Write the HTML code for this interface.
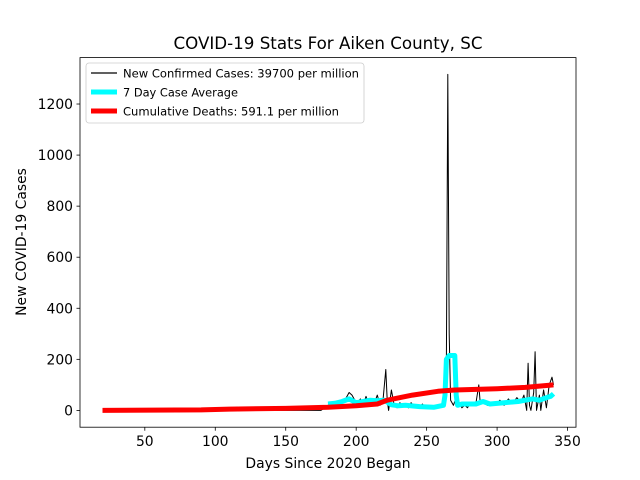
<!DOCTYPE html>
<html><head><meta charset="utf-8"><style>
body{margin:0;background:#fff;}
svg{display:block;font-family:"DejaVu Sans","Liberation Sans",sans-serif;}
</style></head><body>
<svg id="chart" width="640" height="480">
<rect x="0" y="0" width="640" height="480" fill="#fff"/>
<text x="328" y="49" font-size="16.7" text-anchor="middle">COVID-19 Stats For Aiken County, SC</text>
<g id="plot"></g>
<rect x="80" y="57.6" width="496" height="369.6" fill="none" stroke="#000" stroke-width="0.8"/>
<g id="axes"></g>
<text x="328" y="468" font-size="13.9" text-anchor="middle">Days Since 2020 Began</text>
<text transform="translate(26,242) rotate(-90)" font-size="13.9" text-anchor="middle">New COVID-19 Cases</text>
<g>
<rect x="86" y="63" width="278" height="60" rx="3" fill="#fff" fill-opacity="0.8" stroke="#ccc" stroke-width="0.8"/>
<g><line x1="91" y1="73" x2="117" y2="73" stroke="#000" stroke-width="1.2"/><text x="123" y="77.5" font-size="11.6" textLength="236" lengthAdjust="spacingAndGlyphs">New Confirmed Cases: 39700 per million</text></g>
<g><line x1="91" y1="92" x2="117" y2="92" stroke="#00ffff" stroke-width="5"/><text x="123" y="96.5" font-size="11.6" textLength="115" lengthAdjust="spacingAndGlyphs">7 Day Case Average</text></g>
<g><line x1="91" y1="111" x2="117" y2="111" stroke="#ff0000" stroke-width="5"/><text x="123" y="115.5" font-size="11.6" textLength="216" lengthAdjust="spacingAndGlyphs">Cumulative Deaths: 591.1 per million</text></g>
</g>
</svg>
<script>
const caseDays=[20,100,175,180,185,190,193,195,197,199,201,203,205,207,209,211,213,215,217,219,221,222,223,225,227,229,231,233,235,237,239,241,243,245,247,249,251,253,255,257,259,261,263,264,265,266,267,269,271,273,275,277,279,281,283,285,287,288,290,293,296,299,302,305,308,311,314,317,319,321,322,323,324,326,327,328,330,331,333,335,337,339,340];
const caseVals=[0,0,0,20,25,30,50,70,60,40,30,45,20,55,25,40,30,60,20,40,160,40,0,80,20,10,30,15,25,10,30,15,20,10,25,10,20,15,10,20,15,25,30,200,1316,300,40,20,50,30,10,20,10,30,20,30,100,30,40,20,30,20,40,20,45,25,50,30,60,0,185,20,0,70,230,0,60,0,80,10,100,130,100];
const avgDays=[180,185,190,195,200,205,210,215,220,225,230,235,245,255,262,263,264,266,270,271,272,275,285,290,295,305,315,320,325,330,335,338,340];
const avgVals=[25,28,35,45,30,35,40,38,40,22,18,20,15,12,20,60,200,215,215,60,20,25,25,35,25,30,35,40,45,40,50,55,65];
const deathDays=[20,90,110,150,180,200,215,222,240,258,270,300,320,340];
const deathVals=[0,2,5,8,12,18,25,40,60,75,80,85,90,100];
const xTicks=[50,100,150,200,250,300,350];
const yTicks=[0,200,400,600,800,1000,1200];
const xMin=4,xMax=356,yMin=-65.8,yMax=1381.8;
const X=d=>80+(d-xMin)/(xMax-xMin)*496;
const Y=v=>427.2-(v-yMin)/(yMax-yMin)*369.6;
const NS="http://www.w3.org/2000/svg";
const plot=document.getElementById('plot'),axes=document.getElementById('axes');
function line(days,vals,color,w,name){
  const p=document.createElementNS(NS,'polyline');
  p.setAttribute('points',days.map((d,i)=>X(d).toFixed(1)+','+Y(vals[i]).toFixed(1)).join(' '));
  p.setAttribute('fill','none');p.setAttribute('stroke',color);p.setAttribute('stroke-width',w);
  p.setAttribute('stroke-linejoin','round');
  
  
  plot.appendChild(p);
}
line(caseDays,caseVals,'#000',1,'new-cases-line');
line(avgDays,avgVals,'#00ffff',5,'seven-day-average-line');
line(deathDays,deathVals,'#ff0000',5,'cumulative-deaths-line');
xTicks.forEach(t=>{
  const g=document.createElementNS(NS,'g');
  
  
  const x=X(t);
  g.innerHTML=`<line x1="${x}" y1="427.2" x2="${x}" y2="430.7" stroke="#000" stroke-width="0.8"/><text x="${x}" y="446" font-size="13.9" text-anchor="middle">${t}</text>`;
  axes.appendChild(g);
});
yTicks.forEach(t=>{
  const g=document.createElementNS(NS,'g');
  
  
  const y=Y(t);
  g.innerHTML=`<line x1="76.5" y1="${y}" x2="80" y2="${y}" stroke="#000" stroke-width="0.8"/><text x="73" y="${y+5}" font-size="13.9" text-anchor="end">${t}</text>`;
  axes.appendChild(g);
});
</script>
</body></html>
